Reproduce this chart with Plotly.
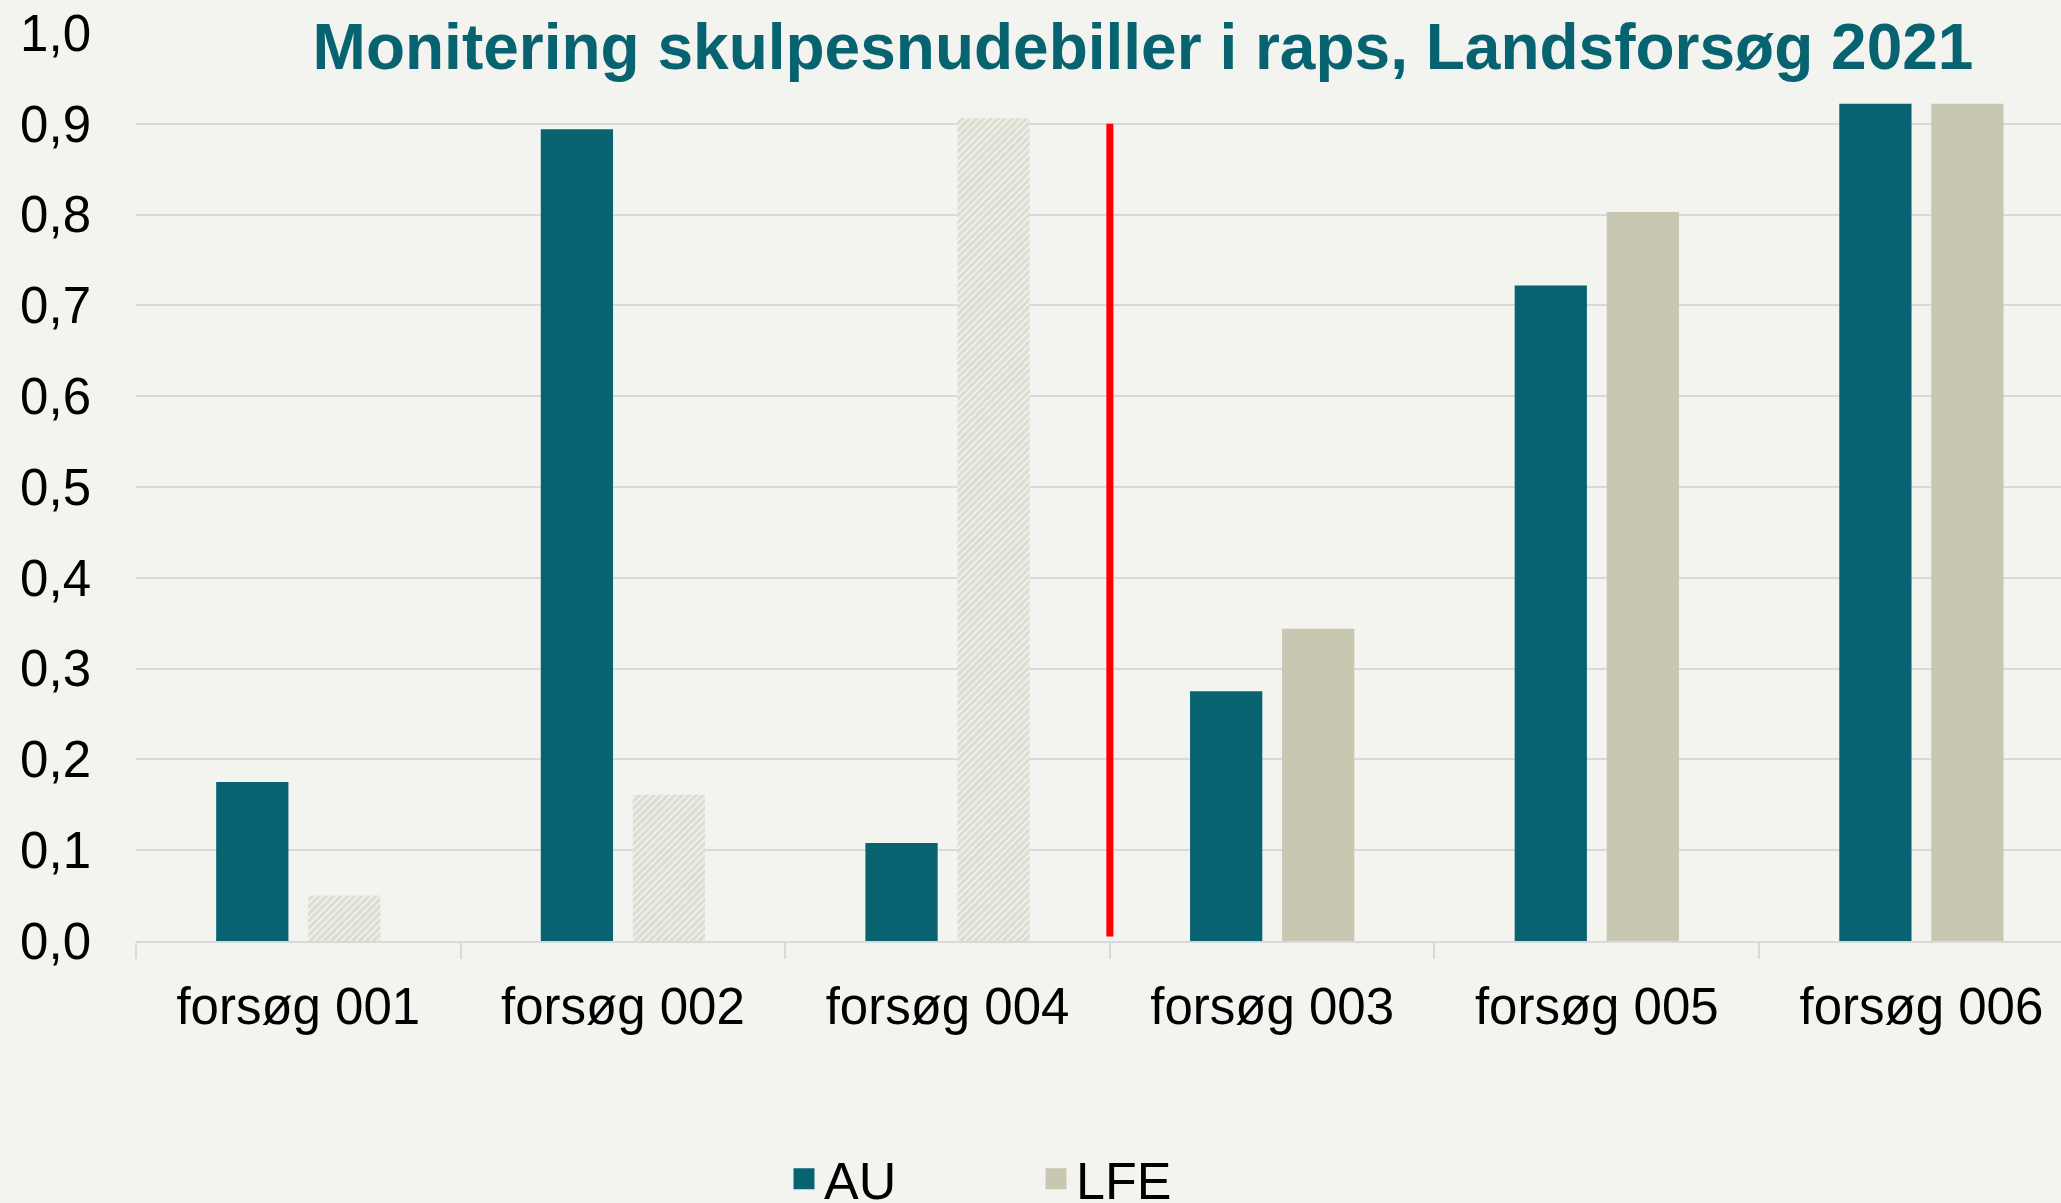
import plotly.graph_objects as go

categories = ["forsøg 001", "forsøg 002", "forsøg 004", "forsøg 003", "forsøg 005", "forsøg 006"]
au_values = [0.175, 0.894, 0.108, 0.275, 0.722, 0.922]
lfe_values = [0.050, 0.161, 0.906, 0.344, 0.803, 0.922]
lfe_patterns = ["/", "/", "/", "", "", ""]
y_ticks = [0.0, 0.1, 0.2, 0.3, 0.4, 0.5, 0.6, 0.7, 0.8, 0.9, 1.0]
title_text = "Monitering skulpesnudebiller i raps, Landsforsøg 2021"
separator_x = 2.5
separator_y = [0.005, 0.9]

TEAL = "#07636F"
BEIGE = "#C8C7B2"
BG = "#F3F3EF"
GRID = "#D9D9D9"
FONT = "Liberation Sans, Arial, sans-serif"

W, H = 2061, 1203
ml, mr, mt, mb = 136, 0, 33, 262

fig = go.Figure()
fig.add_trace(go.Bar(x=categories, y=au_values, name="AU", marker=dict(color=TEAL, line=dict(width=0)),
                     showlegend=False))
fig.add_trace(go.Bar(x=categories, y=lfe_values, name="LFE",
                     marker=dict(color=BEIGE, line=dict(width=0),
                                 pattern=dict(shape=lfe_patterns, fgcolor="#BDBCA5", bgcolor="#FFFFFF",
                                              size=5, solidity=0.8, fillmode="overlay")),
                     showlegend=False))
# legend entries
fig.add_trace(go.Scatter(x=[None], y=[None], mode="markers", name="AU",
                         marker=dict(symbol="square", color=TEAL, size=27,
                                     line=dict(color=TEAL, width=6))))
fig.add_trace(go.Scatter(x=[None], y=[None], mode="markers", name="LFE",
                         marker=dict(symbol="square", color=BEIGE, size=27,
                                     line=dict(color=BEIGE, width=6))))

fig.add_shape(type="line", xref="x", yref="y", x0=separator_x, x1=separator_x,
              y0=separator_y[0], y1=separator_y[1], line=dict(color="#FF0000", width=7))

fig.update_layout(
    width=W, height=H,
    margin=dict(l=ml, r=mr, t=mt, b=mb, autoexpand=False),
    paper_bgcolor=BG, plot_bgcolor=BG,
    separators=", ",
    barmode="group", bargap=0.433, bargroupgap=0.215,
    font=dict(family=FONT, color="#000000", size=51),
    title=dict(text="<b>" + title_text + "</b>", font=dict(family=FONT, size=64, color=TEAL),
               x=1143 / W, xanchor="center", xref="container", y=1 - 47 / H, yanchor="middle",
               yref="container"),
    legend=dict(orientation="h", x=(784 - ml) / (W - ml - mr), xanchor="left",
                y=(941 - 1179) / 908, yanchor="middle", font=dict(size=52, color="#000000"),
                bgcolor="rgba(0,0,0,0)", entrywidth=207, itemsizing="trace"),
    xaxis=dict(range=[-0.5, 5.43], showgrid=False, showline=True, linecolor=GRID, linewidth=2,
               ticks="outside", tickson="boundaries", ticklen=16, tickcolor=GRID, tickwidth=2,
               ticklabelstandoff=20,
               tickfont=dict(size=51, color="#000000"), fixedrange=True),
    yaxis=dict(range=[0, 1.0], tickvals=y_ticks, tickformat=".1f", showgrid=True, gridcolor=GRID,
               gridwidth=2, zeroline=False, showline=False, ticks="", ticklabelstandoff=44,
               tickfont=dict(size=51, color="#000000"), fixedrange=True),
)

fig.write_html("out.html", config={"displayModeBar": False},
               post_script="document.body.style.margin='0';document.body.style.background='#F3F3EF';")
